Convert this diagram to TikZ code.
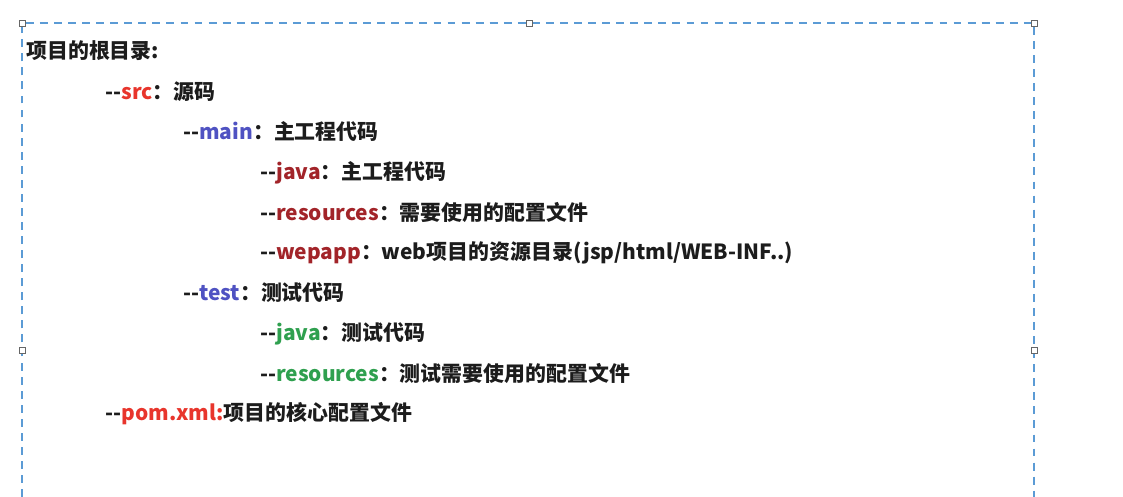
\documentclass[tikz,border=0pt]{standalone}
\usepackage{fontspec}
\setmainfont{Noto Sans CJK SC}[Ligatures=TeXOff]
\usepackage{tikz}
\usepackage{xcolor}
\definecolor{boxblue}{HTML}{5B9BD5}
\definecolor{srcred}{HTML}{E8352C}
\definecolor{dirblue}{HTML}{4F52C2}
\definecolor{mainred}{HTML}{A22429}
\definecolor{testgreen}{HTML}{2FA04F}
\definecolor{inkgray}{HTML}{1C1C1C}
\tikzset{
  entry/.style={anchor=base west,inner sep=0pt,text=inkgray,
    font=\fontsize{11.9pt}{13pt}\selectfont\bfseries},
  handle/.style={draw=gray!80!black,fill=white,line width=0.5pt}
}

\begin{document}
\begin{tikzpicture}[x=0.02cm,y=-0.02cm]
\useasboundingbox (0,0) rectangle (1123,497);
\fill[white] (0,0) rectangle (1123,497);
% selection frame
\draw[boxblue,line width=0.9pt,dash pattern=on 4.5pt off 3.5pt] (22,497) -- (22,23) -- (1034,23) -- (1034,497);
\draw[handle] (19,20) rectangle (25,26);
\draw[handle] (526,20) rectangle (532,26);
\draw[handle] (1031,20) rectangle (1037,26);
\draw[handle] (19,347) rectangle (25,353);
\draw[handle] (1031,347) rectangle (1037,353);
% tree
\node[entry] (root) at (26,58) {项目的根目录:};
\node[entry] (src) at (105,99) {--\textcolor{srcred}{src}：源码};
\node[entry] (main) at (183,139) {--\textcolor{dirblue}{main}：主工程代码};
\node[entry] (mainjava) at (260,179) {--\textcolor{mainred}{java}：主工程代码};
\node[entry] (mainres) at (260,220) {--\textcolor{mainred}{resources}：需要使用的配置文件};
\node[entry] (webapp) at (260,259) {--\textcolor{mainred}{wepapp}：web项目的资源目录(jsp/html/WEB-INF..)};
\node[entry] (test) at (183,300) {--\textcolor{dirblue}{test}：测试代码};
\node[entry] (testjava) at (260,340) {--\textcolor{testgreen}{java}：测试代码};
\node[entry] (testres) at (260,381) {--\textcolor{testgreen}{resources}：测试需要使用的配置文件};
\node[entry] (pom) at (105,420) {--\textcolor{srcred}{pom.xml:}项目的核心配置文件};
\end{tikzpicture}
\end{document}
